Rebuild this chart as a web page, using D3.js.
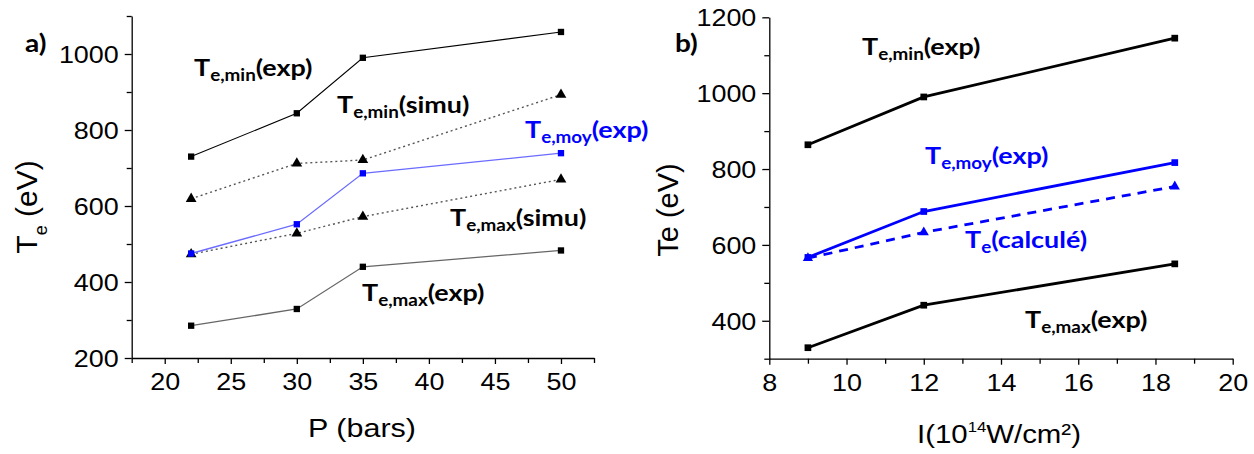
<!DOCTYPE html>
<html><head><meta charset="utf-8">
<script src="https://cdn.jsdelivr.net/npm/d3@7"></script>
<style>body{margin:0;background:#fff} svg{display:block}</style>
</head><body>
<svg id="c" width="1254" height="454"></svg>
<script>
// ---- data: panel a ----
const pressure   = [22, 30, 35, 50];
const teMinExpA  = [730, 844, 990, 1058];
const teMinSimuA = [619, 712, 721, 893];
const teMoyExpA  = [475, 552, 686, 739];
const teMaxSimuA = [473, 528, 572, 670];
const teMaxExpA  = [285, 329, 440, 483];
const xTicksA = [20, 25, 30, 35, 40, 45, 50];
const xMinorA = [17.5, 22.5, 27.5, 32.5, 37.5, 42.5, 47.5, 52.5];
const yTicksA = [200, 400, 600, 800, 1000];
const yMinorA = [300, 500, 700, 900, 1100];
// ---- data: panel b ----
const intensity = [9, 12, 18.5];
const teMinExpB = [864, 990, 1145];
const teMoyExpB = [567, 688, 817];
const teCalcB   = [565, 633, 754];
const teMaxExpB = [329, 441, 550];
const xTicksB = [8, 10, 12, 14, 16, 18, 20];
const xMinorB = [9, 11, 13, 15, 17, 19];
const yTicksB = [400, 600, 800, 1000, 1200];
const yMinorB = [300, 500, 700, 900, 1100];

const svg = d3.select("#c");
const TICKFONT = "'Liberation Sans', Arial, sans-serif";
const LABFONT = "Lato, 'Open Sans', sans-serif";
const S_TICK = 1.17, S_LAB = 1.17;

function stretch(sel, s){
  sel.each(function(){
    const t = d3.select(this);
    const x = +t.attr("x") || 0, y = +t.attr("y") || 0;
    t.attr("transform", `translate(${x},${y}) scale(${s},1) translate(${-x},${-y})`);
  });
}

function drawAxes(x, y, xt, xm, yt, ym){
  const gx = svg.append("g").attr("transform", `translate(0,${y.range()[0]})`);
  gx.call(d3.axisBottom(x).tickValues(xt).tickSize(6).tickSizeOuter(0).tickFormat(d3.format("d")));
  gx.append("g").call(d3.axisBottom(x).tickValues(xm).tickSize(5).tickFormat("")).select(".domain").remove();
  const gy = svg.append("g").attr("transform", `translate(${x.range()[0]},0)`);
  gy.call(d3.axisLeft(y).tickValues(yt).tickSize(7).tickSizeOuter(0).tickFormat(d3.format("d")));
  gy.append("g").call(d3.axisLeft(y).tickValues(ym).tickSize(5).tickFormat("")).select(".domain").remove();
  [gx, gy].forEach(g => {
    g.selectAll("path,line").attr("stroke", "#000").attr("stroke-width", 1.3);
    g.selectAll("text").attr("font-family", TICKFONT).attr("font-size", 23).attr("fill", "#000");
  });
  gx.selectAll(".tick text").attr("y", 32).attr("dy", 0);
  gy.selectAll(".tick text").attr("x", -13).attr("dy", "0.36em");
  stretch(gx.selectAll(".tick text"), S_TICK);
  stretch(gy.selectAll(".tick text"), S_TICK);
}

function series(x, y, xs, ys, o){
  const pts = xs.map((d, i) => [x(d), y(ys[i])]);
  svg.append("path").attr("d", d3.line()(pts)).attr("fill", "none")
    .attr("stroke", o.stroke).attr("stroke-width", o.width)
    .attr("stroke-dasharray", o.dash || null);
  const sym = d3.symbol(o.marker === "tri" ? d3.symbolTriangle : d3.symbolSquare, o.size);
  svg.append("g").selectAll("path").data(pts).join("path")
    .attr("transform", d => `translate(${d[0]},${d[1]})`)
    .attr("d", sym).attr("fill", o.fill);
}

function label(x, y, parts, color, size){
  const t = svg.append("text").attr("x", x).attr("y", y)
    .attr("font-family", LABFONT).attr("font-weight", 700)
    .attr("font-size", size).attr("fill", color);
  let shifted = false;
  parts.forEach(p => {
    const ts = t.append("tspan").text(p.t);
    if (p.sub) { ts.attr("font-size", size * 0.7).attr("dy", size * 0.22); shifted = true; }
    else if (shifted) { ts.attr("dy", -size * 0.22); shifted = false; }
  });
  stretch(t, S_LAB);
  return t;
}

// ===== panel a =====
const xA = d3.scaleLinear().domain([17.5, 52.5]).range([131.7, 594]);
const yA = d3.scaleLinear().domain([200, 1100]).range([358, 16]);
drawAxes(xA, yA, xTicksA, xMinorA, yTicksA, yMinorA);
series(xA, yA, pressure, teMinSimuA, {stroke:"#555", width:1.4, dash:"2,3", marker:"tri", size:50, fill:"#000"});
series(xA, yA, pressure, teMaxSimuA, {stroke:"#555", width:1.4, dash:"2,3", marker:"tri", size:50, fill:"#000"});
series(xA, yA, pressure, teMaxExpA, {stroke:"#666", width:1.3, marker:"sq", size:40, fill:"#000"});
series(xA, yA, pressure, teMinExpA, {stroke:"#000", width:1.1, marker:"sq", size:40, fill:"#000"});
series(xA, yA, pressure, teMoyExpA, {stroke:"#6b6bff", width:1.3, marker:"sq", size:40, fill:"#0000ff"});

label(194, 76, [{t:"T"},{t:"e,min",sub:true},{t:"(exp)"}], "#000", 23);
label(337, 113, [{t:"T"},{t:"e,min",sub:true},{t:"(simu)"}], "#000", 23);
label(525, 138, [{t:"T"},{t:"e,moy",sub:true},{t:"(exp)"}], "#0000ff", 23);
label(450, 226, [{t:"T"},{t:"e,max",sub:true},{t:"(simu)"}], "#000", 23);
label(362, 301, [{t:"T"},{t:"e,max",sub:true},{t:"(exp)"}], "#000", 23);
label(25, 52, [{t:"a)"}], "#000", 24);

// axis titles a
const tA = svg.append("text").attr("transform", "translate(37,207) rotate(-90)")
  .attr("text-anchor", "middle").attr("font-family", TICKFONT).attr("font-size", 30).attr("fill", "#000");
tA.append("tspan").text("T");
tA.append("tspan").text("e").attr("font-size", 18).attr("dy", 10);
tA.append("tspan").text(" (eV)").attr("dy", -10);
const pA = svg.append("text").attr("x", 362).attr("y", 437).attr("text-anchor", "middle")
  .attr("font-family", TICKFONT).attr("font-size", 25).attr("fill", "#000").text("P (bars)");
stretch(pA, 1.22);

// ===== panel b =====
const xB = d3.scaleLinear().domain([8, 20]).range([769.3, 1232.7]);
const yB = d3.scaleLinear().domain([300, 1200]).range([358.7, 17.3]);
drawAxes(xB, yB, xTicksB, xMinorB, yTicksB, yMinorB);
series(xB, yB, intensity, teCalcB, {stroke:"#0000ff", width:2.8, dash:"9,7", marker:"tri", size:45, fill:"#0000ff"});
series(xB, yB, intensity, teMoyExpB, {stroke:"#0000ff", width:2.8, marker:"sq", size:45, fill:"#0000ff"});
series(xB, yB, intensity, teMinExpB, {stroke:"#000", width:2.8, marker:"sq", size:45, fill:"#000"});
series(xB, yB, intensity, teMaxExpB, {stroke:"#000", width:2.8, marker:"sq", size:45, fill:"#000"});

label(862, 55, [{t:"T"},{t:"e,min",sub:true},{t:"(exp)"}], "#000", 23);
label(925, 164, [{t:"T"},{t:"e,moy",sub:true},{t:"(exp)"}], "#0000ff", 23);
label(965, 248, [{t:"T"},{t:"e",sub:true},{t:"(calculé)"}], "#0000ff", 23);
label(1025, 328, [{t:"T"},{t:"e,max",sub:true},{t:"(exp)"}], "#000", 23);
label(675, 52, [{t:"b)"}], "#000", 24);

const tB = svg.append("text").attr("transform", "translate(678,210) rotate(-90)")
  .attr("text-anchor", "middle").attr("font-family", TICKFONT).attr("font-size", 29).attr("fill", "#000").text("Te (eV)");
const iB = svg.append("text").attr("x", 999).attr("y", 443).attr("text-anchor", "middle")
  .attr("font-family", TICKFONT).attr("font-size", 26.5).attr("fill", "#000");
iB.append("tspan").text("I(10");
iB.append("tspan").text("14").attr("font-size", 15).attr("dy", -11);
iB.append("tspan").text("W/cm²)").attr("dy", 11);
stretch(iB, 1.11);
</script>
</body></html>
